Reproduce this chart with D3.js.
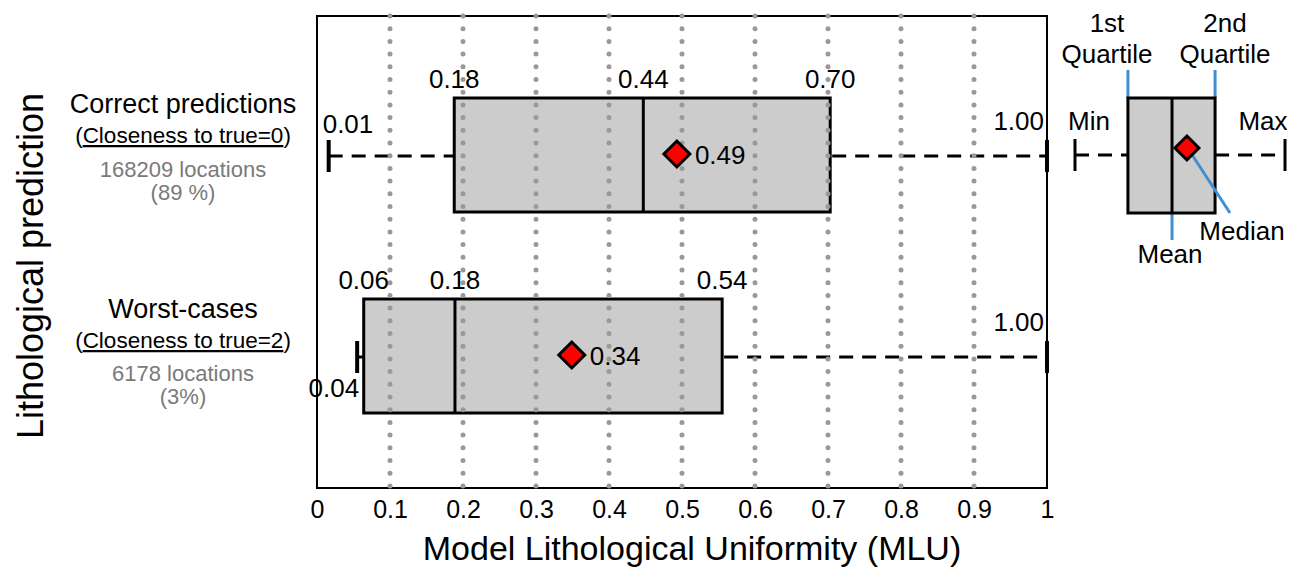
<!DOCTYPE html>
<html>
<head>
<meta charset="utf-8">
<script src="https://cdn.jsdelivr.net/npm/d3@7"></script>
<style>
  body { margin: 0; background: #fff; }
  svg text { font-family: "Liberation Sans", Arial, sans-serif; }
</style>
</head>
<body>
<div class="chart-container"></div>
<script>
const width = 1290, height = 568;

// data
const categories = ["Correct predictions", "Worst-cases"];
const closeness = ["Closeness to true=0", "Closeness to true=2"];
const counts = ["168209 locations", "6178 locations"];
const shares = ["(89 %)", "(3%)"];

const minVals = [0.016, 0.055];
const q1Vals = [0.188, 0.064];
const medVals = [0.447, 0.189];
const q3Vals = [0.703, 0.555];
const maxVals = [1.0, 1.0];
const meanVals = [0.493, 0.349];

// printed labels (as written in the figure)
const minLabels = ["0.01", "0.04"];
const q1Labels = ["0.18", "0.06"];
const medLabels = ["0.44", "0.18"];
const q3Labels = ["0.70", "0.54"];
const maxLabels = ["1.00", "1.00"];
const meanLabels = ["0.49", "0.34"];

const tickValues = [0, 0.1, 0.2, 0.3, 0.4, 0.5, 0.6, 0.7, 0.8, 0.9, 1];
const tickLabels = ["0", "0.1", "0.2", "0.3", "0.4", "0.5", "0.6", "0.7", "0.8", "0.9", "1"];
const gridValues = [0.1, 0.2, 0.3, 0.4, 0.5, 0.6, 0.7, 0.8, 0.9];

// schematic legend box
const legendStats = {min: 0, q1: 0.252, med: 0.462, q3: 0.667, max: 1, mean: 0.533};

var svg = d3.select(".chart-container")
    .append("svg")
    .attr("width", width)
    .attr("height", height);

const frame = {left: 317, right: 1047, top: 16, bottom: 488};

var x = d3.scaleLinear().domain([0, 1]).range([317, 1047]);
var y = d3.scalePoint().domain(categories).range([156, 357]);

const boxH = 114;
const blue = "#3f8fd2";

// frame
svg.append("rect")
    .attr("x", frame.left).attr("y", frame.top)
    .attr("width", frame.right - frame.left)
    .attr("height", frame.bottom - frame.top)
    .attr("fill", "none")
    .attr("stroke", "black")
    .attr("stroke-width", 2);

var boxGroup = svg.append("g");
var gridGroup = svg.append("g");
var markGroup = svg.append("g");

function diamond(g, cx, cy, r) {
    g.append("path")
        .attr("d", `M${cx},${cy - r}L${cx + r},${cy}L${cx},${cy + r}L${cx - r},${cy}Z`)
        .attr("fill", "#ff0000")
        .attr("stroke", "black")
        .attr("stroke-width", 3);
}

categories.forEach((c, i) => {
    const cy = y(c);
    // whiskers
    boxGroup.append("line")
        .attr("x1", x(minVals[i])).attr("x2", x(q1Vals[i]))
        .attr("y1", cy).attr("y2", cy)
        .attr("stroke", "black").attr("stroke-width", 3)
        .attr("stroke-dasharray", "14,9");
    boxGroup.append("line")
        .attr("x1", x(q3Vals[i]) + 2).attr("x2", x(maxVals[i]))
        .attr("y1", cy).attr("y2", cy)
        .attr("stroke", "black").attr("stroke-width", 3)
        .attr("stroke-dasharray", "14,9");
    // caps
    [minVals[i], maxVals[i]].forEach(v => {
        boxGroup.append("line")
            .attr("x1", x(v)).attr("x2", x(v))
            .attr("y1", cy - 16).attr("y2", cy + 16)
            .attr("stroke", "black").attr("stroke-width", 4);
    });
    // box
    boxGroup.append("rect")
        .attr("x", x(q1Vals[i])).attr("y", cy - 58)
        .attr("width", x(q3Vals[i]) - x(q1Vals[i]))
        .attr("height", boxH)
        .attr("fill", "#cccccc")
        .attr("stroke", "black").attr("stroke-width", 3);
    boxGroup.append("line")
        .attr("x1", x(medVals[i])).attr("x2", x(medVals[i]))
        .attr("y1", cy - 58).attr("y2", cy - 58 + boxH)
        .attr("stroke", "black").attr("stroke-width", 3);

    diamond(markGroup, x(meanVals[i]), cy - 2, 13);

    // value labels
    const top = cy - 58;
    [[q1Vals, q1Labels], [medVals, medLabels], [q3Vals, q3Labels]].forEach(([v, l]) => {
        markGroup.append("text")
            .attr("x", x(v[i])).attr("y", top - 10)
            .attr("text-anchor", "middle")
            .attr("font-size", 26)
            .text(l[i]);
    });
    markGroup.append("text")
        .attr("x", x(meanVals[i]) + 18).attr("y", cy + 8)
        .attr("font-size", 26)
        .text(meanLabels[i]);
    markGroup.append("text")
        .attr("x", x(maxVals[i]) - 3).attr("y", cy - 26)
        .attr("text-anchor", "end")
        .attr("font-size", 26)
        .text(maxLabels[i]);
    if (i == 0) {
        markGroup.append("text")
            .attr("x", x(minVals[i]) - 6).attr("y", cy - 23)
            .attr("font-size", 26)
            .text(minLabels[i]);
    } else {
        markGroup.append("text")
            .attr("x", x(minVals[i]) + 2).attr("y", cy + 40)
            .attr("text-anchor", "end")
            .attr("font-size", 26)
            .text(minLabels[i]);
    }

    // category labels on the left
    const lx = 183;
    svg.append("text")
        .attr("x", lx).attr("y", cy - 43 + i * 4)
        .attr("text-anchor", "middle")
        .attr("font-size", 27)
        .text(c);
    var t = svg.append("text")
        .attr("x", lx).attr("y", cy - 13 + i * 4)
        .attr("text-anchor", "middle")
        .attr("font-size", 22.5);
    t.append("tspan").text("(");
    t.append("tspan").attr("text-decoration", "underline").text(closeness[i]);
    t.append("tspan").text(")");
    svg.append("text")
        .attr("x", lx).attr("y", cy + 21 + i * 3)
        .attr("text-anchor", "middle")
        .attr("font-size", 22)
        .attr("fill", "#7a7a7a")
        .text(counts[i]);
    svg.append("text")
        .attr("x", lx).attr("y", cy + 44 + i * 3)
        .attr("text-anchor", "middle")
        .attr("font-size", 22)
        .attr("fill", "#7a7a7a")
        .text(shares[i]);
});

// dotted gridlines (drawn over the boxes)
gridGroup.selectAll("line")
    .data(gridValues)
    .enter()
    .append("line")
    .attr("x1", d => x(d)).attr("x2", d => x(d))
    .attr("y1", frame.top).attr("y2", frame.bottom)
    .attr("stroke", "#999999")
    .attr("stroke-width", 5)
    .attr("stroke-linecap", "round")
    .attr("stroke-dasharray", "0,12.7");

// x axis
var xAxis = d3.axisBottom(x)
    .tickValues(tickValues)
    .tickFormat((d, i) => tickLabels[i])
    .tickSize(0)
    .tickPadding(12);
var axisG = svg.append("g")
    .attr("transform", `translate(0,${frame.bottom})`)
    .call(xAxis);
axisG.select(".domain").remove();
axisG.selectAll("text")
    .attr("font-size", 25)
    .attr("font-family", "Liberation Sans, Arial, sans-serif")
    .attr("fill", "black");

svg.append("text")
    .attr("x", 692).attr("y", 560)
    .attr("text-anchor", "middle")
    .attr("font-size", 34)
    .text("Model Lithological Uniformity (MLU)");

svg.append("text")
    .attr("transform", "translate(43,266) rotate(-90)")
    .attr("text-anchor", "middle")
    .attr("font-size", 36)
    .text("Lithological prediction");

// legend schematic
var lg = svg.append("g");
var lx = d3.scaleLinear().domain([0, 1]).range([1075, 1285]);
const lTop = 98, lBot = 213, lMid = 155;
lg.append("line")
    .attr("x1", lx(legendStats.min)).attr("x2", lx(legendStats.q1))
    .attr("y1", lMid).attr("y2", lMid)
    .attr("stroke", "black").attr("stroke-width", 3).attr("stroke-dasharray", "14,9");
lg.append("line")
    .attr("x1", lx(legendStats.q3)).attr("x2", lx(legendStats.max))
    .attr("y1", lMid).attr("y2", lMid)
    .attr("stroke", "black").attr("stroke-width", 3).attr("stroke-dasharray", "14,9");
[legendStats.min, legendStats.max].forEach(v => {
    lg.append("line")
        .attr("x1", lx(v)).attr("x2", lx(v))
        .attr("y1", lMid - 16).attr("y2", lMid + 16)
        .attr("stroke", "black").attr("stroke-width", 3);
});
// blue pointers
lg.append("line").attr("x1", lx(legendStats.q1)).attr("x2", lx(legendStats.q1))
    .attr("y1", 70).attr("y2", lTop).attr("stroke", blue).attr("stroke-width", 3);
lg.append("line").attr("x1", lx(legendStats.q3)).attr("x2", lx(legendStats.q3))
    .attr("y1", 70).attr("y2", lTop).attr("stroke", blue).attr("stroke-width", 3);
lg.append("line").attr("x1", lx(legendStats.med)).attr("x2", lx(legendStats.med))
    .attr("y1", lBot).attr("y2", 240).attr("stroke", blue).attr("stroke-width", 3);
lg.append("rect")
    .attr("x", lx(legendStats.q1)).attr("y", lTop)
    .attr("width", lx(legendStats.q3) - lx(legendStats.q1))
    .attr("height", lBot - lTop)
    .attr("fill", "#cccccc").attr("stroke", "black").attr("stroke-width", 3);
lg.append("line")
    .attr("x1", lx(legendStats.med)).attr("x2", lx(legendStats.med))
    .attr("y1", lTop).attr("y2", lBot)
    .attr("stroke", "black").attr("stroke-width", 3);
lg.append("line").attr("x1", lx(legendStats.mean) + 4).attr("x2", 1230)
    .attr("y1", 153).attr("y2", 213).attr("stroke", blue).attr("stroke-width", 3);
diamond(lg, lx(legendStats.mean), 148, 12);

const legendTexts = [
    ["1st", 1107, 32], ["Quartile", 1107, 63],
    ["2nd", 1225, 32], ["Quartile", 1225, 63],
    ["Min", 1089, 130], ["Max", 1263, 130],
    ["Median", 1242, 240], ["Mean", 1170, 263]
];
legendTexts.forEach(([t, tx, ty]) => {
    lg.append("text")
        .attr("x", tx).attr("y", ty)
        .attr("text-anchor", "middle")
        .attr("font-size", 26)
        .text(t);
});
</script>
</body>
</html>
